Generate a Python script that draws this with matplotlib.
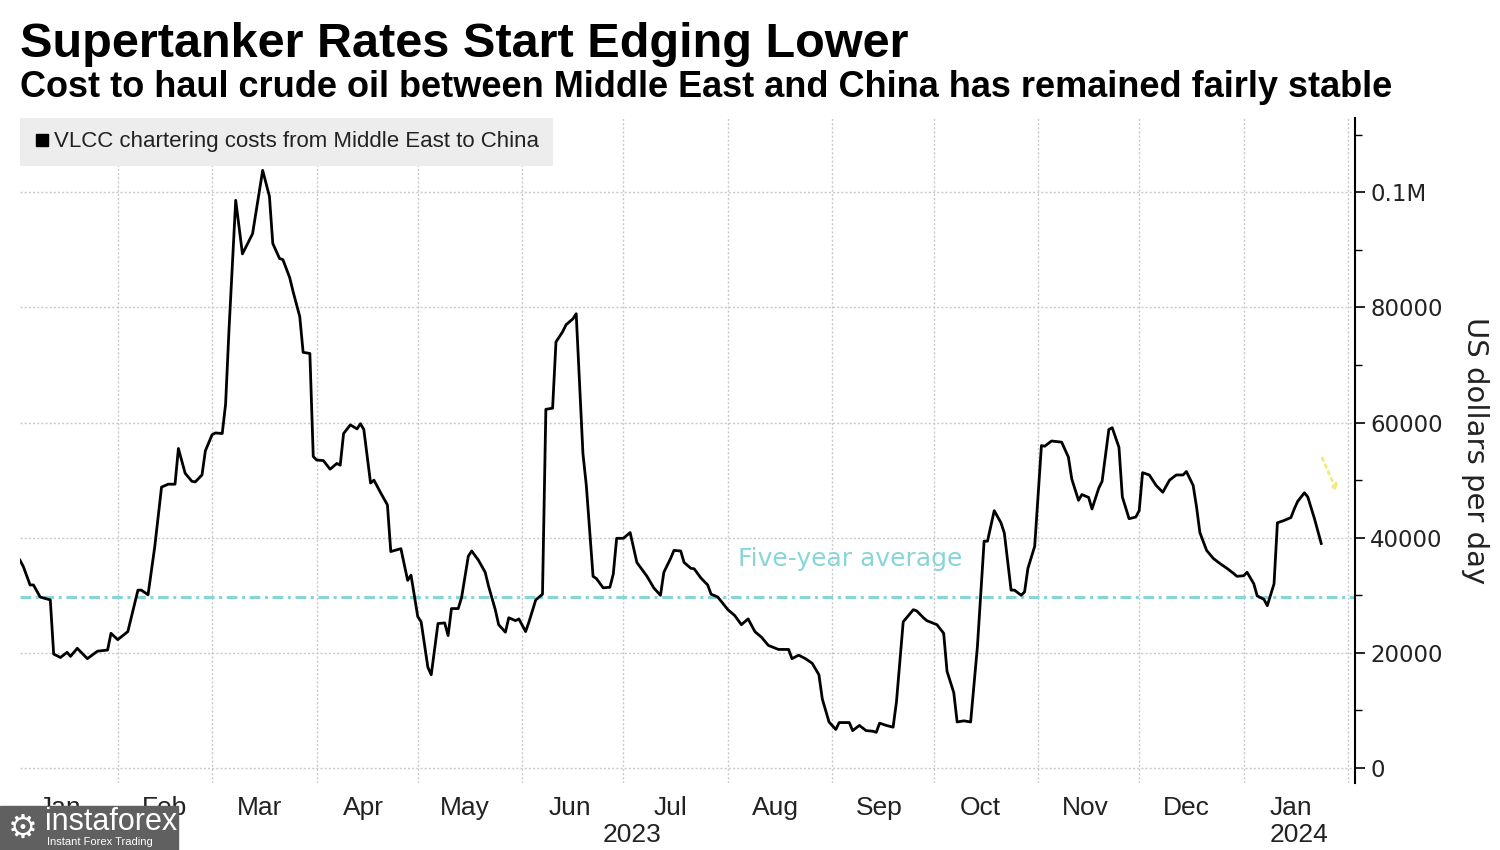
import matplotlib
matplotlib.use('Agg')
import matplotlib.pyplot as plt
import matplotlib.dates as mdates
import matplotlib.ticker as mticker
from matplotlib.lines import Line2D
from matplotlib.patches import Rectangle
import numpy as np
import pandas as pd

start = '2023-01-03'
day_offsets = [
    0, 1, 3, 4, 6, 9, 10, 12, 14, 15, 17, 20, 23, 26, 27, 29, 32, 35, 36, 38,
    40, 42, 44, 46, 47, 49, 51, 52, 54, 55, 57, 58, 60, 61, 62, 64, 66, 69, 72, 74,
    75, 77, 78, 80, 81, 83, 84, 86, 87, 88, 90, 92, 94, 95, 96, 98, 100, 101, 102, 104,
    105, 107, 109, 110, 113, 115, 116, 118, 119, 121, 122, 124, 126, 127, 128, 130, 131, 133, 134, 136,
    138, 139, 141, 142, 144, 145, 147, 148, 150, 151, 153, 155, 156, 158, 159, 161, 162, 164, 165, 167,
    168, 170, 171, 173, 175, 176, 177, 179, 181, 183, 186, 188, 190, 191, 193, 194, 196, 197, 199, 200,
    202, 204, 205, 207, 210, 212, 214, 216, 218, 220, 222, 225, 228, 229, 231, 233, 235, 237, 238, 240,
    242, 243, 246, 247, 249, 251, 253, 254, 255, 257, 259, 260, 262, 263, 265, 266, 268, 269, 272, 274,
    275, 277, 278, 280, 282, 284, 286, 287, 289, 291, 292, 294, 295, 297, 298, 299, 301, 303, 304, 306,
    309, 311, 312, 314, 315, 317, 318, 320, 321, 323, 324, 326, 327, 329, 331, 332, 333, 335, 337, 339,
    341, 343, 345, 346, 348, 349, 350, 352, 354, 356, 358, 360, 361, 363, 364, 366, 367, 369, 370, 372,
    373, 375, 377, 378, 379, 381, 382, 384, 386,
]
rates_k = [
    36.1, 35.0, 31.8, 31.8, 29.7, 29.2, 19.8, 19.2, 20.1, 19.4, 20.8, 19.0, 20.3, 20.5, 23.4, 22.3, 23.7, 30.9, 30.9, 30.1,
    38.5, 48.8, 49.3, 49.3, 55.5, 51.2, 49.8, 49.7, 50.9, 55.1, 57.9, 58.2, 58.1, 63.2, 76.0, 98.6, 89.3, 92.8, 103.8, 99.3,
    91.1, 88.5, 88.3, 85.2, 82.8, 78.4, 72.2, 72.0, 54.1, 53.5, 53.4, 51.9, 52.9, 52.6, 58.1, 59.6, 58.9, 59.8, 58.8, 49.5,
    50.0, 47.8, 45.7, 37.6, 38.1, 32.6, 33.5, 26.3, 25.4, 17.5, 16.2, 25.1, 25.2, 23.0, 27.7, 27.7, 29.6, 36.8, 37.7, 36.1,
    34.0, 31.6, 27.5, 24.9, 23.6, 26.1, 25.6, 25.9, 23.7, 25.4, 29.2, 30.2, 62.3, 62.5, 74.0, 75.8, 77.0, 78.0, 78.9, 54.6,
    49.1, 33.3, 32.9, 31.3, 31.4, 33.7, 39.9, 39.9, 40.9, 35.7, 33.3, 31.3, 30.0, 34.0, 36.4, 37.8, 37.7, 35.7, 34.7, 34.6,
    33.0, 31.8, 30.2, 29.7, 27.5, 26.5, 24.9, 25.9, 23.7, 22.7, 21.3, 20.6, 20.6, 19.0, 19.6, 19.0, 18.2, 16.2, 12.0, 8.0,
    6.7, 7.9, 7.9, 6.5, 7.4, 6.5, 6.4, 6.2, 7.8, 7.4, 7.1, 11.5, 25.4, 26.1, 27.5, 27.3, 26.1, 25.6, 24.9, 23.4,
    16.8, 13.1, 8.0, 8.2, 8.0, 21.0, 39.4, 39.4, 44.7, 42.6, 40.8, 30.9, 30.9, 30.0, 30.6, 34.7, 38.5, 56.0, 55.9, 56.8,
    56.6, 54.0, 50.2, 46.5, 47.5, 47.0, 45.0, 48.6, 49.8, 58.8, 59.1, 55.7, 47.1, 43.3, 43.6, 44.7, 51.3, 50.9, 49.1, 47.9,
    50.0, 50.9, 50.9, 51.5, 49.1, 45.4, 40.9, 37.8, 36.4, 35.5, 34.7, 33.8, 33.3, 33.4, 34.0, 32.0, 29.9, 29.3, 28.2, 32.0,
    42.6, 43.0, 43.5, 45.0, 46.3, 47.8, 47.1, 43.3, 39.0,
]
five_year_avg = 29700

title = 'Supertanker Rates Start Edging Lower'
subtitle = 'Cost to haul crude oil between Middle East and China has remained fairly stable'
series_label = 'VLCC chartering costs from Middle East to China'
avg_label = 'Five-year average'
y_ticks = [0, 20000, 40000, 60000, 80000, 100000]
y_tick_labels = ['0', '20000', '40000', '60000', '80000', '0.1M']
years = [2023, 2024]

dates = pd.Timestamp(start) + pd.to_timedelta(day_offsets, unit='D')
rates = np.array(rates_k) * 1000
x_min = pd.Timestamp('2023-01-03')
x_max = pd.Timestamp('2024-02-03')

plt.rcParams['font.family'] = ['Liberation Sans', 'DejaVu Sans']
teal = '#88d5d8'
grid_col = '#c9c9c9'

fig = plt.figure(figsize=(15, 8.5), dpi=100)
ax = fig.add_axes([0.0133, 0.0788, 0.89, 0.7824])

ax.plot(dates, rates, color='black', lw=2.0, zorder=3)
ax.axhline(five_year_avg, color=teal, lw=2.2, ls=(0, (3.5, 1.5, 1, 1.5)), zorder=2)
ax.text(pd.Timestamp('2023-08-04'), 36300, avg_label, color=teal, fontsize=18,
        family='DejaVu Sans', va='center', ha='left')

ax.set_xlim(x_min, x_max)
ax.set_ylim(-2600, 112900)

# x axis: gridlines at month starts, labels mid-month
ax.xaxis.set_major_locator(mdates.MonthLocator())
ax.xaxis.set_major_formatter(mticker.NullFormatter())
ax.xaxis.set_minor_locator(mdates.MonthLocator(bymonthday=15))
ax.xaxis.set_minor_formatter(mdates.DateFormatter('%b'))
ax.tick_params(axis='x', which='both', length=0)
ax.tick_params(axis='x', which='minor', labelsize=19, pad=9, labelcolor='#222222')

for yr in years:
    lo = max(pd.Timestamp(f'{yr}-01-01'), x_min)
    hi = min(pd.Timestamp(f'{yr + 1}-01-01'), x_max)
    ax.text(lo + (hi - lo) / 2, -0.078, str(yr), transform=ax.get_xaxis_transform(),
            ha='center', va='center', fontsize=19, color='#222222')

# y axis on the right
ax.yaxis.tick_right()
ax.set_yticks(y_ticks)
ax.set_yticklabels(y_tick_labels)
ax.yaxis.set_minor_locator(mticker.MultipleLocator(10000))
ax.tick_params(axis='y', which='major', length=7, width=1.2, labelsize=16.5, pad=4,
               labelfontfamily='DejaVu Sans', labelcolor='#222222')
ax.tick_params(axis='y', which='minor', length=5, width=1.0)
ax.set_ylabel('US dollars per day', rotation=270, fontsize=21, family='DejaVu Sans',
              color='#222222', va='center')
ax.yaxis.set_label_coords(1.09, 0.5)

for s in ['left', 'top', 'bottom']:
    ax.spines[s].set_visible(False)
ax.spines['right'].set_linewidth(1.5)

ax.grid(True, which='major', color=grid_col, ls=(0, (1.5, 1.5)), lw=1)
ax.set_axisbelow(True)

handle = Line2D([], [], marker='s', color='black', ls='none', markersize=9)
leg = ax.legend(handles=[handle], labels=[series_label], loc='upper left',
                bbox_to_anchor=(0, 1.0), borderaxespad=0, frameon=True,
                facecolor='#ededed', edgecolor='none', fancybox=False, framealpha=1,
                fontsize=16, handletextpad=0.15, handlelength=0.8, borderpad=0.6)
for t in leg.get_texts():
    t.set_color('#222222')

# faint yellow arrow near the last point
ax.annotate('', xy=(pd.Timestamp('2024-01-29'), 47500), xytext=(pd.Timestamp('2024-01-24'), 54300),
            arrowprops=dict(arrowstyle='->', color='#f1e97a', lw=2, ls=':'))

fig.text(0.0133, 1 - 57 / 850, title, fontsize=35, fontweight='bold',
         va='baseline', color='black')
fig.text(0.0133, 1 - 97 / 850, subtitle, fontsize=26, fontweight='bold',
         va='baseline', color='black')

# watermark in the lower-left corner
fig.patches.append(Rectangle((0, 0), 178 / 1500, 44 / 850, transform=fig.transFigure,
                             color='#606060', zorder=5))
fig.text(8 / 1500, 1 - 828 / 850, '\u2699', fontsize=24, color='white',
         family='DejaVu Sans', va='center', zorder=6)
fig.text(45 / 1500, 1 - 822 / 850, 'instaforex', fontsize=22, color='white',
         va='center', zorder=6)
fig.text(47 / 1500, 1 - 842 / 850, 'Instant Forex Trading', fontsize=8, color='white',
         va='center', zorder=6)

fig.savefig('out.png', dpi=100)
